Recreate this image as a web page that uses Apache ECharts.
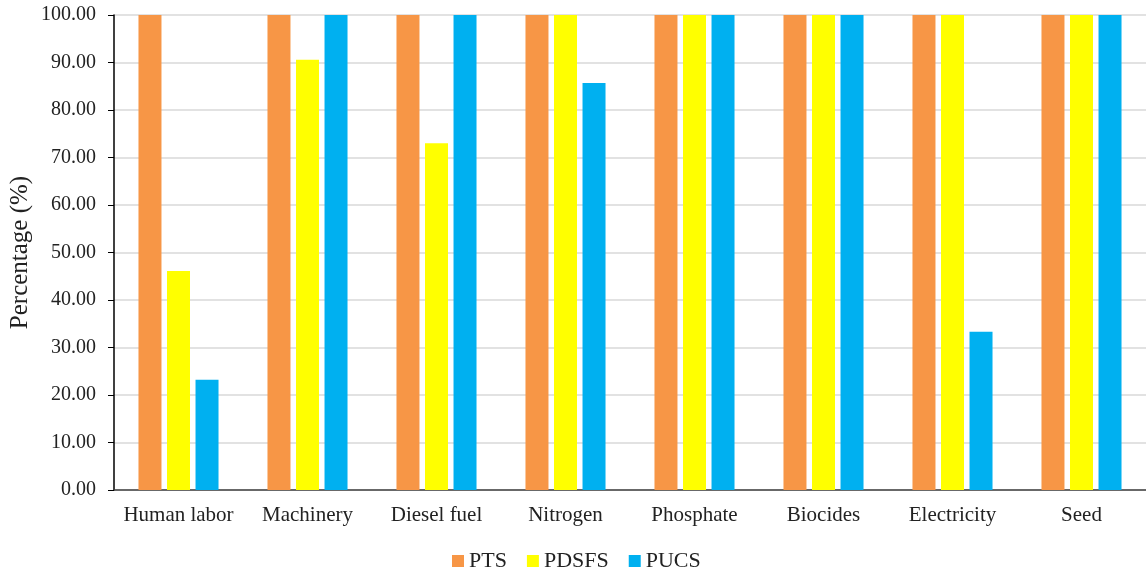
<!DOCTYPE html>
<html><head><meta charset="utf-8">
<script src="https://cdn.jsdelivr.net/npm/echarts@6/dist/echarts.min.js"></script>
<style>html,body{margin:0;padding:0;background:#fff}#c{width:1146px;height:571px}</style>
</head><body><div id="c"></div>
<script>
const categories = ['Human labor','Machinery','Diesel fuel','Nitrogen','Phosphate','Biocides','Electricity','Seed'];
const PTS   = [100,100,100,100,100,100,100,100];
const PDSFS = [46.1,90.6,73.0,100,100,100,100,100];
const PUCS  = [23.2,100,100,85.7,100,100,33.3,100];
const yTicks = [0,10,20,30,40,50,60,70,80,90,100];
const font = 'Liberation Serif, Times New Roman, serif';
const chart = echarts.init(document.getElementById('c'));
chart.setOption({
  animation:false,
  textStyle:{fontFamily:font},
  grid:{left:114,right:0,top:15,bottom:81,containLabel:false,outerBoundsMode:'none'},
  legend:{top:545,left:447,itemWidth:12,itemHeight:12,itemGap:20,icon:'rect',
    textStyle:{fontFamily:font,fontSize:22,color:'#222'},data:['PTS','PDSFS','PUCS']},
  xAxis:{type:'category',data:categories,
    axisLine:{lineStyle:{color:'#404040',width:1.5}},axisTick:{show:false},
    axisLabel:{fontFamily:font,fontSize:21,color:'#222',margin:15,interval:0,hideOverlap:false}},
  yAxis:{type:'value',min:yTicks[0],max:yTicks[yTicks.length-1],interval:10,
    name:'Percentage (%)',nameLocation:'middle',nameGap:81,nameMoveOverlap:false,
    nameTextStyle:{fontFamily:font,fontSize:25,color:'#222'},
    axisLine:{show:true,lineStyle:{color:'#000',width:1.5}},
    axisTick:{show:true,length:6,lineStyle:{color:'#000'}},
    axisLabel:{fontFamily:font,fontSize:20,color:'#222',margin:18,formatter:v=>v.toFixed(2)},
    splitLine:{lineStyle:{color:'#d9d9d9',width:1.5}}},
  series:[
    {name:'PTS',type:'bar',data:PTS,barWidth:23,barGap:'24%',itemStyle:{color:'#F79646'}},
    {name:'PDSFS',type:'bar',data:PDSFS,barWidth:23,barGap:'24%',itemStyle:{color:'#FFFF00'}},
    {name:'PUCS',type:'bar',data:PUCS,barWidth:23,barGap:'24%',itemStyle:{color:'#00B0F0'}}
  ]
});
</script></body></html>
